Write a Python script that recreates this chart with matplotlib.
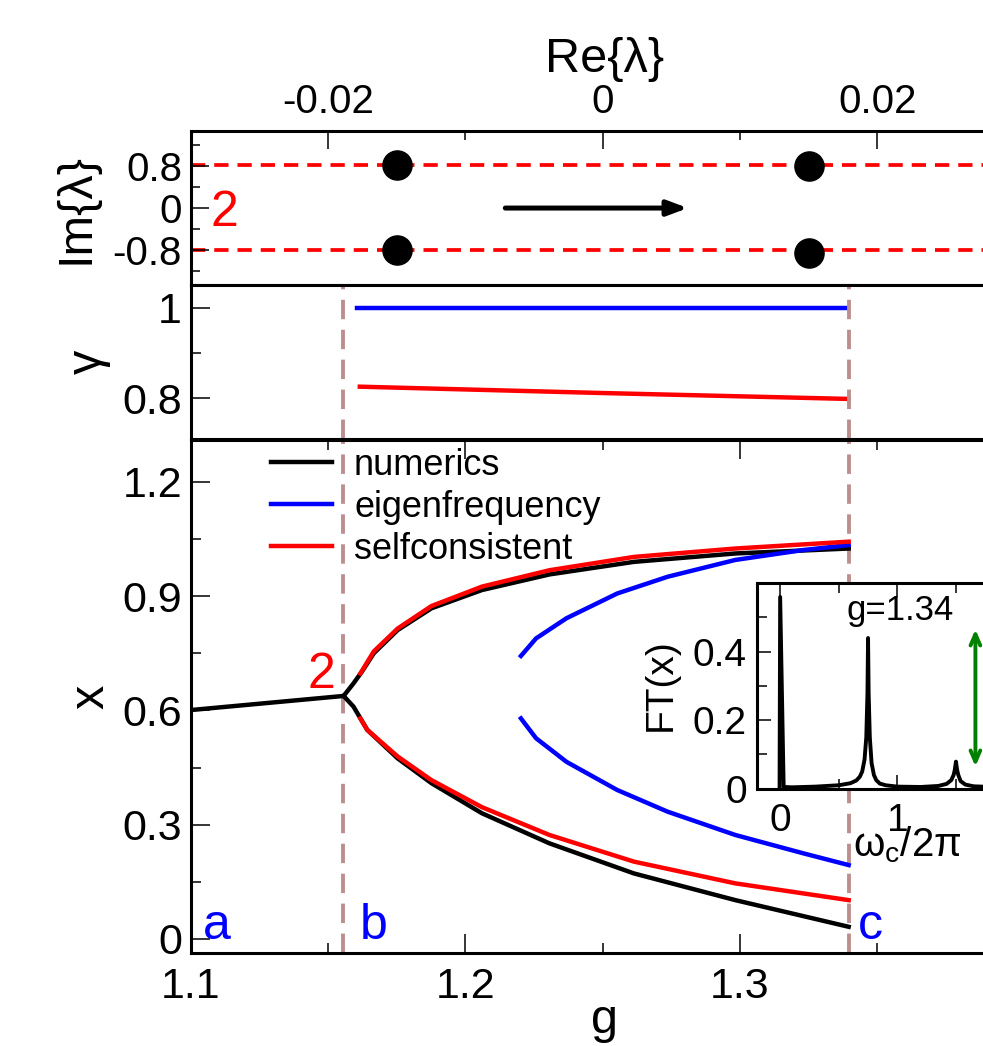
import matplotlib
matplotlib.use("Agg")
import matplotlib.pyplot as plt
from matplotlib.lines import Line2D
from matplotlib.ticker import MultipleLocator

plt.rcParams['font.family'] = ['Liberation Sans', 'DejaVu Sans']
plt.rcParams['mathtext.fontset'] = 'custom'
plt.rcParams['mathtext.rm'] = 'Liberation Sans'
plt.rcParams['mathtext.it'] = 'Liberation Sans'

# ---- data ----
# top panel: eigenvalues in the complex plane
re_left = [-0.015, -0.015]
im_left = [0.828, -0.797]
re_right = [0.015, 0.015]
im_right = [0.809, -0.866]
im_dash = [0.815, -0.80]

# middle panel: gamma vs g
g_gam_blue = [1.1604, 1.3390]
gam_blue = [1.0, 1.0]
g_gam_red = [1.1615, 1.25, 1.3396]
gam_red = [0.826, 0.812, 0.799]

# bottom panel: x vs g
g_single = [1.1, 1.1556]
x_single = [0.601, 0.638]

g_num_up = [1.1556, 1.1592, 1.1623, 1.1666, 1.1753, 1.1876, 1.2060, 1.2306, 1.2614, 1.2983, 1.3396]
x_num_up = [0.638, 0.671, 0.702, 0.750, 0.811, 0.868, 0.916, 0.957, 0.990, 1.012, 1.025]
g_num_lo = [1.1556, 1.1592, 1.1642, 1.1753, 1.1876, 1.2060, 1.2306, 1.2614, 1.2983, 1.3396]
x_num_lo = [0.638, 0.610, 0.549, 0.474, 0.409, 0.330, 0.251, 0.172, 0.102, 0.032]

g_sc_up = [1.1617, 1.1666, 1.1753, 1.1876, 1.2060, 1.2306, 1.2614, 1.2983, 1.3396]
x_sc_up = [0.697, 0.755, 0.815, 0.874, 0.925, 0.968, 1.003, 1.025, 1.043]
g_sc_lo = [1.1617, 1.1642, 1.1753, 1.1876, 1.2060, 1.2306, 1.2614, 1.2983, 1.3396]
x_sc_lo = [0.579, 0.549, 0.479, 0.417, 0.346, 0.273, 0.203, 0.146, 0.102]

g_ef = [1.2202, 1.2257, 1.2368, 1.2553, 1.2737, 1.2983, 1.3230, 1.3396]
x_ef_up = [0.743, 0.789, 0.842, 0.907, 0.951, 0.995, 1.021, 1.034]
x_ef_lo = [0.579, 0.527, 0.465, 0.391, 0.334, 0.273, 0.225, 0.194]

g_b = 1.1555
g_c = 1.3396

# inset: spectrum at g=1.34
freq = [-0.005, 0.0, 0.03, 0.1, 0.3, 0.5, 0.6, 0.65, 0.68, 0.70, 0.72, 0.735, 0.745, 0.75,
        0.755, 0.765, 0.78, 0.80, 0.82, 0.85, 0.9, 1.0, 1.2, 1.35, 1.42, 1.46, 1.48, 1.49,
        1.5, 1.51, 1.52, 1.54, 1.58, 1.65, 1.8, 2.0]
ft = [0.0, 0.56, 0.005, 0.004, 0.006, 0.01, 0.016, 0.024, 0.035, 0.05, 0.085, 0.15, 0.28, 0.44,
      0.28, 0.15, 0.075, 0.04, 0.025, 0.015, 0.01, 0.006, 0.005, 0.008, 0.014, 0.025, 0.04, 0.055,
      0.079, 0.055, 0.04, 0.022, 0.012, 0.007, 0.005, 0.004]

brown = '#BC8F8F'
lw_spine = 2.2
lw_curve = 3.2

fig = plt.figure(figsize=(9.83, 10.46), dpi=100)
L, W = 0.1943, 0.8377
ax_top = fig.add_axes([L, 0.7275, W, 0.1472])
ax_mid = fig.add_axes([L, 0.5800, W, 0.1475])
ax_bot = fig.add_axes([L, 0.0892, W, 0.4902])
ax_in = fig.add_axes([0.7698, 0.2460, 0.2623, 0.1964])

for a in (ax_top, ax_mid, ax_bot, ax_in):
    for s in a.spines.values():
        s.set_linewidth(lw_spine)

# ---- top panel ----
ax_top.set_xlim(-0.03, 0.03)
ax_top.set_ylim(-1.47, 1.47)
for y in im_dash:
    ax_top.axhline(y, color='red', lw=2.7, dashes=(3.8, 2.4), zorder=1)
ax_top.plot(re_left, im_left, 'o', color='black', ms=21, zorder=3)
ax_top.plot(re_right, im_right, 'o', color='black', ms=21, zorder=3)
ax_top.annotate('', xy=(0.0062, 0.0), xytext=(-0.0071, 0.0),
                arrowprops=dict(arrowstyle='-|>,head_length=1.2,head_width=0.45',
                                color='black', lw=3.6, shrinkA=0, shrinkB=0))
ax_top.text(-0.0286, -0.338, '2', color='red', fontsize=36)
ax_top.xaxis.tick_top()
ax_top.xaxis.set_label_position('top')
ax_top.set_xticks([-0.02, 0, 0.02])
ax_top.set_xticklabels(['-0.02', '0', '0.02'])
ax_top.xaxis.set_minor_locator(MultipleLocator(0.01))
ax_top.set_yticks([0.8, 0, -0.8])
ax_top.set_yticklabels(['0.8', '0', '-0.8'])
ax_top.yaxis.set_minor_locator(MultipleLocator(0.4))
ax_top.tick_params(axis='x', which='both', direction='in', top=True, bottom=False,
                   labelsize=29, pad=7, width=1.1)
ax_top.tick_params(axis='y', which='both', direction='in', left=True, right=True,
                   labelsize=29, pad=6.5, width=1.1)
ax_top.tick_params(which='major', length=13)
ax_top.tick_params(which='minor', length=6.5)
ax_top.set_xlabel('Re{λ}', fontsize=35)
ax_top.xaxis.set_label_coords(0.502, 1.385)
ax_top.xaxis.label.set_va('baseline')
ax_top.set_ylabel('Im{λ}', fontsize=35, va='center')
ax_top.yaxis.set_label_coords(-0.14, 0.5)

# ---- middle panel ----
ax_mid.set_xlim(1.1, 1.4)
ax_mid.set_ylim(0.71, 1.05)
ax_mid.plot(g_gam_blue, gam_blue, color='blue', lw=lw_curve)
ax_mid.plot(g_gam_red, gam_red, color='red', lw=lw_curve)
ax_mid.axvline(g_b, color=brown, lw=2.8, dashes=(5, 2.7))
ax_mid.axvline(g_c, color=brown, lw=2.8, dashes=(5, 2.7))
ax_mid.set_yticks([0.8, 1.0])
ax_mid.set_yticklabels(['0.8', '1'])
ax_mid.yaxis.set_minor_locator(MultipleLocator(0.1))
ax_mid.tick_params(axis='x', which='both', bottom=False, top=False, labelbottom=False)
ax_mid.tick_params(axis='y', which='both', direction='in', left=True, right=True,
                   labelsize=31, pad=6.5, width=1.1)
ax_mid.tick_params(which='major', length=14)
ax_mid.tick_params(which='minor', length=7)
ax_mid.set_ylabel('γ', fontsize=35, va='center')
ax_mid.yaxis.set_label_coords(-0.125, 0.5)

# ---- bottom panel ----
ax_bot.set_xlim(1.1, 1.4)
ax_bot.set_ylim(-0.036, 1.31)
ax_bot.axvline(g_b, color=brown, lw=2.8, dashes=(5, 2.7), zorder=1)
ax_bot.axvline(g_c, color=brown, lw=2.8, dashes=(5, 2.7), zorder=1)
ax_bot.plot(g_single, x_single, color='black', lw=lw_curve)
ax_bot.plot(g_num_up, x_num_up, color='black', lw=lw_curve)
ax_bot.plot(g_num_lo, x_num_lo, color='black', lw=lw_curve)
ax_bot.plot(g_ef, x_ef_up, color='blue', lw=lw_curve)
ax_bot.plot(g_ef, x_ef_lo, color='blue', lw=lw_curve)
ax_bot.plot(g_sc_up, x_sc_up, color='red', lw=lw_curve)
ax_bot.plot(g_sc_lo, x_sc_lo, color='red', lw=lw_curve)

ax_bot.text(1.1044, 0.0, 'a', color='blue', fontsize=36, va='baseline')
ax_bot.text(1.1616, 0.0, 'b', color='blue', fontsize=36, va='baseline')
ax_bot.text(1.3429, 0.0, 'c', color='blue', fontsize=36, va='baseline')
ax_bot.text(1.1426, 0.659, '2', color='red', fontsize=36, va='baseline')

ax_bot.set_xticks([1.1, 1.2, 1.3, 1.4])
ax_bot.set_xticklabels(['1.1', '1.2', '1.3', ''])
ax_bot.xaxis.set_minor_locator(MultipleLocator(0.05))
ax_bot.set_yticks([0, 0.3, 0.6, 0.9, 1.2])
ax_bot.set_yticklabels(['0', '0.3', '0.6', '0.9', '1.2'])
ax_bot.yaxis.set_minor_locator(MultipleLocator(0.15))
ax_bot.tick_params(axis='x', which='both', direction='in', top=True, bottom=True,
                   labelsize=31, pad=10, width=1.1)
ax_bot.tick_params(axis='y', which='both', direction='in', left=True, right=True,
                   labelsize=31, pad=6.5, width=1.1)
ax_bot.tick_params(which='major', length=14)
ax_bot.tick_params(which='minor', length=7)
ax_bot.set_xlabel('g', fontsize=35)
ax_bot.xaxis.set_label_coords(0.5027, -0.157)
ax_bot.xaxis.label.set_va('baseline')
ax_bot.set_ylabel('x', fontsize=35, va='center')
ax_bot.yaxis.set_label_coords(-0.1214, 0.5)

handles = [Line2D([], [], color='black', lw=lw_curve),
           Line2D([], [], color='blue', lw=lw_curve),
           Line2D([], [], color='red', lw=lw_curve)]
ax_bot.legend(handles, ['numerics', 'eigenfrequency', 'selfconsistent'],
              loc='upper left', bbox_to_anchor=(0.0972, 0.985), frameon=False,
              fontsize=26, handlelength=1.7, handletextpad=0.6, labelspacing=0.2,
              borderpad=0, borderaxespad=0)

# ---- inset ----
ax_in.set_facecolor('white')
ax_in.set_zorder(5)
ax_in.plot(freq, ft, color='black', lw=2.8)
ax_in.set_xlim(-0.2, 2.0)
ax_in.set_ylim(0, 0.6)
ax_in.set_xticks([0, 1])
ax_in.set_xticklabels(['0', '1'])
ax_in.xaxis.set_minor_locator(MultipleLocator(0.5))
ax_in.set_yticks([0, 0.2, 0.4])
ax_in.set_yticklabels(['0', '0.2', '0.4'])
ax_in.yaxis.set_minor_locator(MultipleLocator(0.1))
ax_in.tick_params(axis='x', which='both', direction='in', top=True, labelsize=28, pad=10, width=1.1)
ax_in.tick_params(axis='y', which='both', direction='in', right=True, labelsize=28, pad=7, width=1.1)
ax_in.tick_params(which='major', length=10)
ax_in.tick_params(which='minor', length=7)
ax_in.annotate('', xy=(1.666, 0.465), xytext=(1.666, 0.065),
               arrowprops=dict(arrowstyle='<->,head_length=0.8,head_width=0.35',
                               color='green', lw=2.8, shrinkA=0, shrinkB=0))
ax_in.text(1.02, 0.492, 'g=1.34', fontsize=25, ha='center', va='baseline')
ax_in.text(-0.371, 0.505, 'FT(x)', fontsize=28, rotation=90, ha='center', va='center',
           transform=ax_in.transAxes)
ax_in.text(0.3735, -0.331, 'ω$_c$/2π', fontsize=29, ha='left', va='baseline',
           transform=ax_in.transAxes)

fig.savefig('out.png', dpi=100)
